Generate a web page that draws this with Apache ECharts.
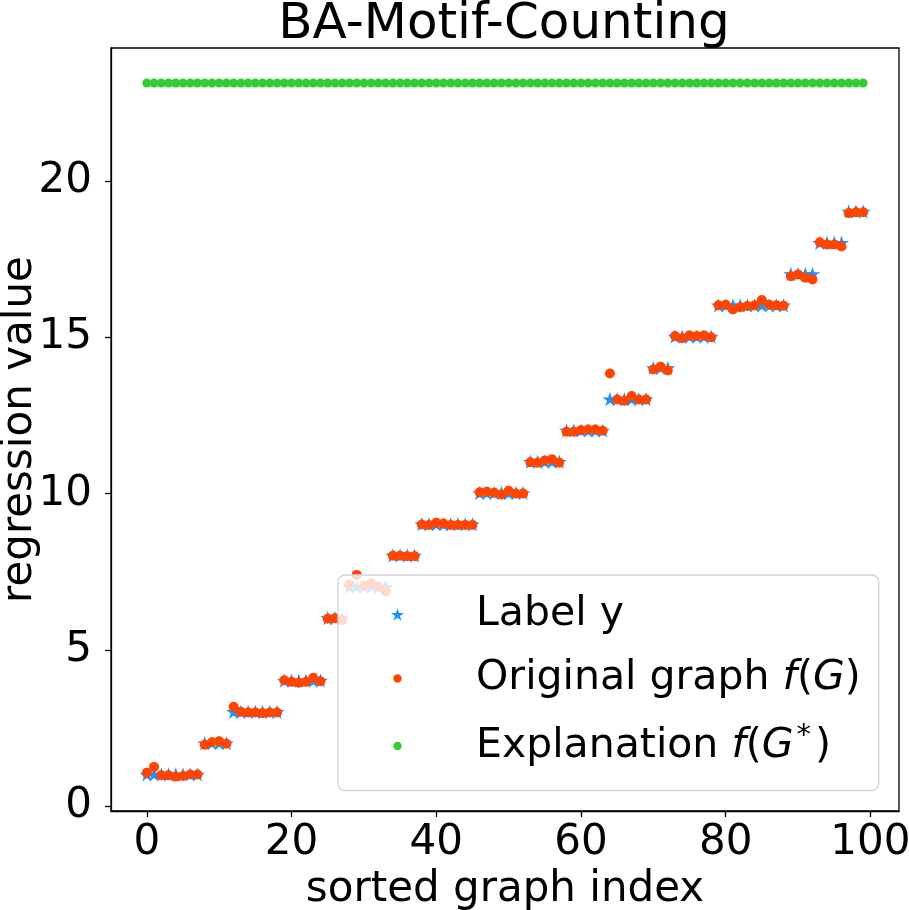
<!DOCTYPE html>
<html>
<head>
<meta charset="utf-8">
<script src="https://cdn.jsdelivr.net/npm/echarts@6/dist/echarts.min.js"></script>
<style>
  html, body { margin: 0; padding: 0; background: #fff; }
  #chart { width: 909px; height: 910px; }
</style>
</head>
<body>
<div id="chart"></div>
<script>
// label y for each sorted graph index (0..99)
const labelY = [
  1, 1, 1, 1, 1, 1, 1, 1,
  2, 2, 2, 2,
  3, 3, 3, 3, 3, 3, 3,
  4, 4, 4, 4, 4, 4,
  6, 6, 6,
  7, 7, 7, 7, 7, 7,
  8, 8, 8, 8,
  9, 9, 9, 9, 9, 9, 9, 9,
  10, 10, 10, 10, 10, 10, 10,
  11, 11, 11, 11, 11,
  12, 12, 12, 12, 12, 12,
  13, 13, 13, 13, 13, 13,
  14, 14, 14,
  15, 15, 15, 15, 15, 15,
  16, 16, 16, 16, 16, 16, 16, 16, 16, 16,
  17, 17, 17, 17,
  18, 18, 18, 18,
  19, 19, 19
];

// model output on the original graph
const originalPred = [
  1.07, 1.26, 0.99, 0.99, 0.95, 0.97, 1.02, 1.02,
  1.97, 2.05, 2.08, 2.00,
  3.18, 3.02, 3.00, 3.00, 2.98, 3.00, 3.00,
  4.03, 3.98, 3.95, 3.98, 4.11, 4.00,
  6.00, 6.01, 5.95,
  7.10, 7.40, 7.05, 7.14, 7.02, 6.87,
  8.01, 8.01, 8.00, 8.00,
  9.01, 9.00, 9.07, 9.04, 9.00, 9.00, 9.00, 9.00,
  10.04, 10.06, 10.03, 9.97, 10.09, 10.00, 10.00,
  11.00, 10.99, 11.06, 11.10, 10.99,
  11.98, 11.98, 12.03, 12.05, 12.05, 12.01,
  13.84, 13.01, 12.97, 13.12, 13.01, 13.01,
  13.97, 14.06, 13.94,
  15.04, 14.97, 15.06, 15.04, 15.06, 15.00,
  16.02, 16.04, 15.89, 15.96, 16.00, 16.02, 16.19, 16.04, 16.02, 16.01,
  16.95, 17.01, 16.90, 16.85,
  18.04, 17.97, 17.97, 17.90,
  18.97, 19.00, 19.00
];

// model output on the explanation subgraph
const explanationPred = [
  23.13, 23.13, 23.13, 23.13, 23.13, 23.13, 23.13, 23.13, 23.13, 23.13,
  23.13, 23.13, 23.13, 23.13, 23.13, 23.13, 23.13, 23.13, 23.13, 23.13,
  23.13, 23.13, 23.13, 23.13, 23.13, 23.13, 23.13, 23.13, 23.13, 23.13,
  23.13, 23.13, 23.13, 23.13, 23.13, 23.13, 23.13, 23.13, 23.13, 23.13,
  23.13, 23.13, 23.13, 23.13, 23.13, 23.13, 23.13, 23.13, 23.13, 23.13,
  23.13, 23.13, 23.13, 23.13, 23.13, 23.13, 23.13, 23.13, 23.13, 23.13,
  23.13, 23.13, 23.13, 23.13, 23.13, 23.13, 23.13, 23.13, 23.13, 23.13,
  23.13, 23.13, 23.13, 23.13, 23.13, 23.13, 23.13, 23.13, 23.13, 23.13,
  23.13, 23.13, 23.13, 23.13, 23.13, 23.13, 23.13, 23.13, 23.13, 23.13,
  23.13, 23.13, 23.13, 23.13, 23.13, 23.13, 23.13, 23.13, 23.13, 23.13
];

const xTicks = [0, 20, 40, 60, 80, 100];
const yTicks = [0, 5, 10, 15, 20];

const FONT = 'DejaVu Sans';

// five-point star like matplotlib's '*' marker
const STAR = 'path://M100,0L122.45,69.1L195.11,69.1L136.33,111.8L158.78,180.9L100,138.2L41.22,180.9L63.67,111.8L4.89,69.1L77.55,69.1Z';
// small dot padded into a 13x13 box so the legend icon keeps its size
const DOT = 'path://M0,0M13,13M2.3,6.5A4.2,4.2 0 1,1 10.7,6.5A4.2,4.2 0 1,1 2.3,6.5Z';

function pairs(arr) {
  return arr.map(function (v, i) { return [i, v]; });
}

const chart = echarts.init(document.getElementById('chart'));

const option = {
  animation: false,
  backgroundColor: '#fff',
  title: {
    text: 'BA-Motif-Counting',
    left: 499,
    textAlign: 'center',
    top: -5,
    textStyle: {
      fontFamily: FONT,
      fontSize: 50,
      fontWeight: 'normal',
      color: '#000'
    }
  },
  grid: {
    left: 111,
    right: 10,
    top: 48,
    bottom: 99,
    show: true,
    borderColor: '#000',
    borderWidth: 1.3,
    containLabel: false,
    outerBoundsMode: 'none'
  },
  xAxis: {
    type: 'value',
    min: -4.95,
    max: 103.95,
    name: 'sorted graph index',
    nameLocation: 'middle',
    nameGap: 57,
    nameTextStyle: { fontFamily: FONT, fontSize: 42, color: '#000' },
    axisLine: { show: true, onZero: false, lineStyle: { color: '#000', width: 1.3 } },
    axisTick: { show: true, customValues: xTicks, length: 6, lineStyle: { color: '#000', width: 1.3 } },
    axisLabel: { customValues: xTicks, margin: 11, fontFamily: FONT, fontSize: 42, color: '#000' },
    splitLine: { show: false }
  },
  yAxis: {
    type: 'value',
    min: -0.15,
    max: 24.25,
    name: 'regression value',
    nameLocation: 'middle',
    nameGap: 70,
    nameMoveOverlap: false,
    nameTextStyle: { fontFamily: FONT, fontSize: 42, color: '#000' },
    axisLine: { show: true, onZero: false, lineStyle: { color: '#000', width: 1.3 } },
    axisTick: { show: true, customValues: yTicks, length: 6, lineStyle: { color: '#000', width: 1.3 } },
    axisLabel: { customValues: yTicks, margin: 19, fontFamily: FONT, fontSize: 42, color: '#000' },
    splitLine: { show: false }
  },
  legend: {
    orient: 'vertical',
    left: 338,
    top: 575,
    padding: [19, 18, 24, 53],
    itemWidth: 13,
    itemHeight: 13,
    itemGap: 23,
    symbolKeepAspect: true,
    backgroundColor: 'rgba(255,255,255,0.8)',
    borderColor: '#d3d3d3',
    borderWidth: 1.3,
    borderRadius: 7,
    selectedMode: false,
    data: [
      { name: 'Label y', icon: STAR },
      { name: 'Original graph f(G)', icon: DOT },
      { name: 'Explanation f(G*)', icon: DOT }
    ],
    formatter: function (name) {
      if (name === 'Label y') return '{n|Label y}';
      if (name === 'Original graph f(G)') return '{n|Original graph }{i|f}{n|(}{i|G}{n|)}';
      return '{n|Explanation }{i|f}{n|(}{i|G}{s|*}{n|)}';
    },
    textStyle: {
      padding: [0, 0, 0, 67],
      rich: {
        n: { fontFamily: FONT, fontSize: 41, color: '#000', lineHeight: 48 },
        i: { fontFamily: FONT, fontSize: 41, fontStyle: 'italic', color: '#000', lineHeight: 48 },
        s: { fontFamily: FONT, fontSize: 29, color: '#000', lineHeight: 48, verticalAlign: 'top', padding: [0, 4, 0, 3] }
      }
    }
  },
  series: [
    {
      name: 'Label y',
      type: 'scatter',
      symbol: STAR,
      symbolSize: [15, 14.3],
      symbolOffset: [0, -0.7],
      itemStyle: { color: '#1E90FF', opacity: 1 },
      data: pairs(labelY),
      z: 2
    },
    {
      name: 'Original graph f(G)',
      type: 'scatter',
      symbol: 'circle',
      symbolSize: 10,
      itemStyle: { color: '#FF4500', opacity: 1 },
      data: pairs(originalPred),
      z: 3
    },
    {
      name: 'Explanation f(G*)',
      type: 'scatter',
      symbol: 'circle',
      symbolSize: 9,
      itemStyle: { color: '#32CD32', opacity: 1 },
      data: pairs(explanationPred),
      z: 3
    }
  ]
};

chart.setOption(option);
</script>
</body>
</html>
